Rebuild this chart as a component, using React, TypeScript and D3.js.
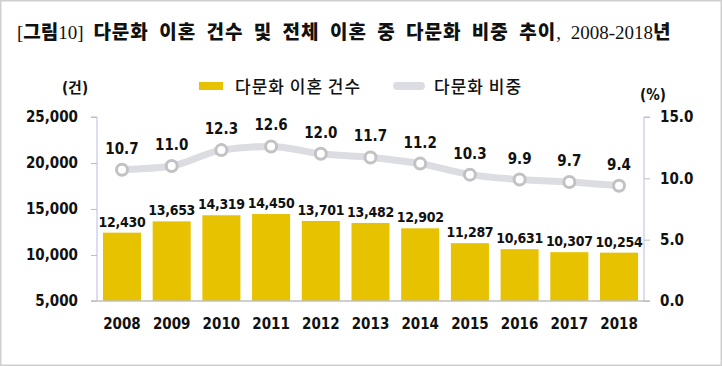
import React, { useEffect, useRef } from 'react';
import * as d3 from 'd3';

const years = ['2008', '2009', '2010', '2011', '2012', '2013', '2014', '2015', '2016', '2017', '2018'];
const divorceCounts = [12430, 13653, 14319, 14450, 13701, 13482, 12902, 11287, 10631, 10307, 10254];
const divorceShare = [10.7, 11.0, 12.3, 12.6, 12.0, 11.7, 11.2, 10.3, 9.9, 9.7, 9.4];
const leftTicks = [5000, 10000, 15000, 20000, 25000];
const rightTicks = [0, 5, 10, 15];

const W = 722;
const H = 366;
const NUM_FONT = '"DejaVu Sans Condensed", "DejaVu Sans", Verdana, sans-serif';
const KR_FONT = '"Noto Sans CJK KR", "Noto Sans", sans-serif';
const SERIF = '"Liberation Serif", serif';

export default function App() {
  const ref = useRef<SVGSVGElement>(null);

  useEffect(() => {
    const svg = d3.select(ref.current);
    svg.selectAll('*').remove();

    const left = 97, right = 644, top = 117, bottom = 301;

    // frame
    svg.append('rect')
      .attr('x', 0.5).attr('y', 0.5)
      .attr('width', W - 1).attr('height', H - 1)
      .attr('fill', '#fff').attr('stroke', '#cfcfcf').attr('stroke-width', 2);

    // title
    const title = svg.append('text')
      .attr('x', 17).attr('y', 39)
      .attr('font-size', 19).attr('font-weight', 'bold').attr('fill', '#111')
      .attr('word-spacing', 5);
    title.append('tspan').attr('font-family', SERIF).attr('font-weight', 'normal').text('[');
    title.append('tspan').attr('font-family', KR_FONT).attr('font-weight', 900).text('그림');
    title.append('tspan').attr('font-family', SERIF).attr('font-weight', 'normal').text('10] ');
    title.append('tspan').attr('font-family', KR_FONT).attr('font-weight', 900).attr('letter-spacing', 1)
      .text('다문화 이혼 건수 및 전체 이혼 중 다문화 비중 추이');
    title.append('tspan').attr('font-family', SERIF).attr('font-weight', 'normal').text(', 2008-2018');
    title.append('tspan').attr('font-family', KR_FONT).attr('font-weight', 900).text('년');

    const x = d3.scaleBand().domain(years).range([left, right]).paddingInner(0.235).paddingOuter(0.12);
    const yL = d3.scaleLinear().domain([5000, 25000]).range([bottom, top]);
    const yR = d3.scaleLinear().domain([0, 15]).range([bottom, top]);

    // bars
    svg.append('g').selectAll('rect')
      .data(divorceCounts)
      .join('rect')
      .attr('x', (_, i) => x(years[i])!)
      .attr('y', d => yL(d))
      .attr('width', x.bandwidth())
      .attr('height', d => bottom - yL(d))
      .attr('fill', '#e6c200');

    svg.append('g').selectAll('text')
      .data(divorceCounts)
      .join('text')
      .attr('x', (_, i) => x(years[i])! + x.bandwidth() / 2)
      .attr('y', d => yL(d) - 6)
      .attr('text-anchor', 'middle')
      .attr('font-family', NUM_FONT)
      .attr('font-weight', 'bold')
      .attr('font-size', 14)
      .attr('letter-spacing', -0.3)
      .attr('fill', '#111')
      .text(d => d3.format(',')(d));

    // axes
    const axisColor = '#b9bde0';
    const gl = svg.append('g')
      .attr('transform', `translate(${left},0)`)
      .call(d3.axisLeft(yL).tickValues(leftTicks).tickSize(6).tickFormat(d3.format(',')));
    gl.select('.domain').attr('stroke', axisColor).attr('d', `M-6,${top}H0V${bottom}`);
    gl.selectAll('.tick line').attr('stroke', '#bfbfbf');
    gl.selectAll('.tick text')
      .attr('x', -19)
      .attr('font-family', NUM_FONT).attr('font-weight', 'bold').attr('font-size', 15).attr('fill', '#111');

    const gr = svg.append('g')
      .attr('transform', `translate(${right},0)`)
      .call(d3.axisRight(yR).tickValues(rightTicks).tickSize(6).tickFormat(d3.format('.1f')));
    gr.select('.domain').attr('stroke', axisColor).attr('d', `M6,${top}H0V${bottom}`);
    gr.selectAll('.tick line').attr('stroke', '#bfbfbf');
    gr.selectAll('.tick text')
      .attr('x', 16)
      .attr('font-family', NUM_FONT).attr('font-weight', 'bold').attr('font-size', 15).attr('fill', '#111');

    svg.append('line')
      .attr('x1', left - 6).attr('x2', right + 6)
      .attr('y1', bottom).attr('y2', bottom)
      .attr('stroke', '#bfbfbf').attr('stroke-width', 1.5);

    const gx = svg.append('g')
      .attr('transform', `translate(0,${bottom})`)
      .call(d3.axisBottom(x).tickSize(0));
    gx.select('.domain').remove();
    gx.selectAll('.tick text')
      .attr('dy', 0).attr('y', 28)
      .attr('font-family', NUM_FONT).attr('font-weight', 'bold').attr('font-size', 15).attr('fill', '#111');

    // line
    const cx = (i: number) => x(years[i])! + x.bandwidth() / 2;
    const line = d3.line<number>()
      .x((_, i) => cx(i))
      .y(d => yR(d))
      .curve(d3.curveMonotoneX);
    svg.append('path')
      .datum(divorceShare)
      .attr('d', line)
      .attr('fill', 'none')
      .attr('stroke', '#dcdde2')
      .attr('stroke-width', 7)
      .attr('stroke-linecap', 'round');

    svg.append('g').selectAll('circle')
      .data(divorceShare)
      .join('circle')
      .attr('cx', (_, i) => cx(i))
      .attr('cy', d => yR(d))
      .attr('r', 5.5)
      .attr('fill', '#fff')
      .attr('stroke', '#c2c2c4')
      .attr('stroke-width', 3);

    svg.append('g').selectAll('text')
      .data(divorceShare)
      .join('text')
      .attr('x', (_, i) => cx(i))
      .attr('y', d => yR(d) - 16)
      .attr('text-anchor', 'middle')
      .attr('font-family', NUM_FONT)
      .attr('font-weight', 'bold')
      .attr('font-size', 15)
      .attr('fill', '#111')
      .text(d => d.toFixed(1));

    // units
    const unit = svg.append('text').attr('x', 75).attr('y', 93).attr('text-anchor', 'middle')
      .attr('font-family', NUM_FONT).attr('font-weight', 'bold').attr('font-size', 15).attr('fill', '#111');
    unit.append('tspan').text('(');
    unit.append('tspan').attr('font-family', KR_FONT).text('건');
    unit.append('tspan').text(')');
    svg.append('text').attr('x', 653).attr('y', 100).attr('text-anchor', 'middle')
      .attr('font-family', NUM_FONT).attr('font-weight', 'bold').attr('font-size', 15).attr('fill', '#111')
      .text('(%)');

    // legend
    svg.append('rect').attr('x', 199).attr('y', 82).attr('width', 24).attr('height', 8).attr('fill', '#e6c200');
    svg.append('text').attr('x', 235).attr('y', 93)
      .attr('font-family', KR_FONT).attr('font-weight', 500).attr('font-size', 17).attr('letter-spacing', 1)
      .attr('fill', '#111')
      .text('다문화 이혼 건수');
    svg.append('line').attr('x1', 397).attr('x2', 421).attr('y1', 86).attr('y2', 86)
      .attr('stroke', '#dcdde2').attr('stroke-width', 8).attr('stroke-linecap', 'round');
    svg.append('text').attr('x', 434).attr('y', 93)
      .attr('font-family', KR_FONT).attr('font-weight', 500).attr('font-size', 17).attr('letter-spacing', 1)
      .attr('fill', '#111')
      .text('다문화 비중');
  }, []);

  return (
    <div style={{ position: 'absolute', left: 0, top: 0 }}>
      <svg ref={ref} width={W} height={H} style={{ display: 'block' }} />
    </div>
  );
}
